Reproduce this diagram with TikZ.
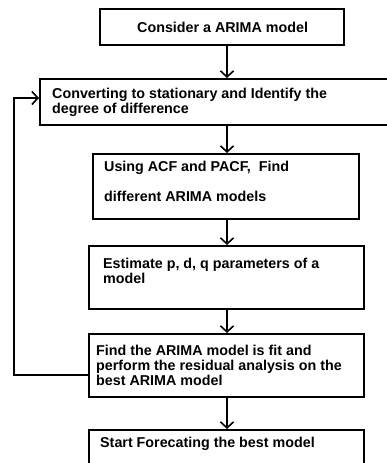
\documentclass[tikz,border=0pt]{standalone}
\usepackage{fontspec}
\setmainfont{Liberation Sans}
\usetikzlibrary{arrows.meta}

\begin{document}
\begin{tikzpicture}[x=1pt,y=-1pt,
  box/.style={draw,line width=1.6pt,anchor=north west,inner sep=0pt},
  txt/.style={anchor=north west,align=left,inner sep=0pt,
    font=\bfseries\fontsize{14.3}{14.8}\selectfont},
  flow/.style={line width=1.6pt,-{Straight Barb[length=6pt,width=13pt,line width=1.6pt]}}]

\useasboundingbox (0,0) rectangle (386,463);

\node[box,minimum width=244pt,minimum height=36pt] (consider) at (99,8) {};
\node[txt] (tconsider) at (137,22) {Consider a ARIMA model};

\node[box,minimum width=360pt,minimum height=46pt] (convert) at (39,78) {};
\node[txt] (tconvert) at (52,88) {Converting to stationary and Identify the\\degree of difference};

\node[box,minimum width=266pt,minimum height=65pt] (acf) at (92,153) {};
\node[txt] (tacf) at (104,161) {Using ACF and PACF,\ \ Find\\[15pt]different ARIMA models};

\node[box,minimum width=275pt,minimum height=63pt] (estimate) at (88,245) {};
\node[txt] (testimate) at (103,258) {Estimate p, d, q parameters of a\\model};

\node[box,minimum width=275pt,minimum height=63pt] (fit) at (88,333) {};
\node[txt] (tfit) at (96,345) {Find the ARIMA model is fit and\\perform the residual analysis on the\\best ARIMA model};

\node[box,minimum width=275pt,minimum height=45pt] (forecast) at (88,429) {};
\node[txt] (tforecast) at (100,437) {Start Forecating the best model};

% arrows down the middle
\coordinate (ax) at (227,0);
\draw[flow] (consider.south -| ax) to (convert.north -| ax);
\draw[flow] (convert.south -| ax) to (acf.north -| ax);
\draw[flow] (acf.south -| ax) to (estimate.north -| ax);
\draw[flow] (estimate.south -| ax) to (fit.north -| ax);
\draw[flow] (fit.south -| ax) to (forecast.north -| ax);

% feedback loop
\coordinate (lx) at (14,0);
\coordinate (from) at (88,375);
\coordinate (into) at (39,98);
\draw[flow] (from) to (from -| lx) to (into -| lx) to (into);

\end{tikzpicture}
\end{document}
